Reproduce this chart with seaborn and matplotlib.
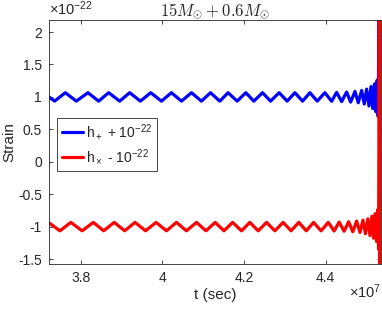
import numpy as np
import pandas as pd
import matplotlib
matplotlib.use("Agg")
import matplotlib.pyplot as plt
import seaborn as sns

# time of each local extremum (units of 1e7 s)
t_plus = [3.7223, 3.7363, 3.7625, 3.7895, 3.8179, 3.8441, 3.8686, 3.8956, 3.9201, 3.9463,
          3.9716, 3.9978, 4.0223, 4.0468, 4.0713, 4.0958, 4.1179, 4.1407, 4.1610, 4.1831,
          4.2044, 4.2240, 4.2453, 4.2650, 4.2860, 4.3056, 4.3245, 4.3434, 4.3613, 4.3792,
          4.3980, 4.4145, 4.4267, 4.4390, 4.4512, 4.4610, 4.4716, 4.4797, 4.4880, 4.4944,
          4.5002, 4.5059, 4.5108, 4.5152, 4.5194, 4.5230, 4.5260, 4.5284, 4.5304, 4.5319,
          4.5333]
# strain at those points (units of 1e-22, already shifted by +1)
h_plus = [1.0, 0.935, 1.065, 0.935, 1.065, 0.935, 1.065, 0.935, 1.065, 0.935,
          1.065, 0.935, 1.065, 0.935, 1.065, 0.935, 1.065, 0.935, 1.065, 0.935,
          1.065, 0.935, 1.065, 0.935, 1.065, 0.935, 1.065, 0.935, 1.065, 0.935,
          1.065, 0.932, 1.07, 0.928, 1.075, 0.92, 1.085, 0.91, 1.10, 0.89,
          1.12, 0.86, 1.16, 0.82, 1.20, 0.77, 1.26, 0.70, 2.18, 0.55,
          1.3]

t_cross = [3.7223, 3.7494, 3.7760, 3.8037, 3.8310, 3.8564, 3.8821, 3.9079, 3.9332, 3.9590,
           3.9847, 4.0101, 4.0346, 4.0591, 4.0836, 4.1069, 4.1293, 4.1509, 4.1721, 4.1938,
           4.2142, 4.2347, 4.2552, 4.2755, 4.2958, 4.3151, 4.3340, 4.3524, 4.3703, 4.3886,
           4.4063, 4.4206, 4.4329, 4.4451, 4.4561, 4.4663, 4.4757, 4.4839, 4.4912, 4.4973,
           4.5031, 4.5084, 4.5130, 4.5173, 4.5212, 4.5245, 4.5272, 4.5294, 4.5312, 4.5326,
           4.5335]
# (units of 1e-22, shifted by -1)
h_cross = [-0.94, -1.065, -0.935, -1.065, -0.935, -1.065, -0.935, -1.065, -0.935, -1.065,
           -0.935, -1.065, -0.935, -1.065, -0.935, -1.065, -0.935, -1.065, -0.935, -1.065,
           -0.935, -1.065, -0.935, -1.065, -0.935, -1.065, -0.935, -1.065, -0.935, -1.065,
           -0.935, -1.068, -0.93, -1.072, -0.925, -1.08, -0.915, -1.09, -0.90, -1.11,
           -0.88, -1.14, -0.84, -1.18, -0.80, -1.23, -0.74, -1.35, 2.18, -1.58,
           -1.0]

yticks = [-1.5, -1, -0.5, 0, 0.5, 1, 1.5, 2]
xticks = [3.8, 4.0, 4.2, 4.4]

sns.set_style("ticks")
plt.rcParams["font.family"] = ["Liberation Sans", "DejaVu Sans"]
plt.rcParams["mathtext.fontset"] = "custom"
plt.rcParams["mathtext.rm"] = "Liberation Sans"
plt.rcParams["mathtext.it"] = "Liberation Sans:italic"
plt.rcParams["axes.unicode_minus"] = False

fig = plt.figure(figsize=(3.82, 3.09), dpi=100)
ax = fig.add_axes([0.128, 0.1456, 0.869, 0.7894])

sns.lineplot(x=t_plus, y=h_plus, ax=ax, color="#0000ff", lw=2.3, sort=False,
             solid_joinstyle="round", label=r"h$_+$ + 10$^{-22}$")
sns.lineplot(x=t_cross, y=h_cross, ax=ax, color="#ff0000", lw=2.3, sort=False,
             solid_joinstyle="round", label=r"h$_\times$ - 10$^{-22}$")

ax.set_xlim(3.7223, 4.535)
ax.set_ylim(-1.577, 2.185)
ax.set_xticks(xticks)
ax.set_yticks(yticks)
ax.set_xticklabels([f"{v:g}" for v in xticks])
ax.set_yticklabels([f"{v:g}" for v in yticks])
ax.tick_params(direction="in", top=True, right=True, length=3, width=0.6,
               color="#262626", labelsize=10, labelcolor="#262626", pad=5)
for s in ax.spines.values():
    s.set_linewidth(0.6)
    s.set_color("#262626")

ax.set_xlabel("t (sec)", fontsize=11, color="#262626", labelpad=2)
ax.set_ylabel("Strain", fontsize=11, color="#262626", labelpad=1)
title = ax.set_title(r"$15M_{\odot} + 0.6M_{\odot}$", fontsize=12, pad=3)
title.set_math_fontfamily("cm")

ax.text(0.0, 1.01, r"$\times$10$^{-22}$", transform=ax.transAxes, fontsize=10.5,
        color="#262626", ha="left", va="bottom")
ax.text(1.0, -0.075, r"$\times$10$^{7}$", transform=ax.transAxes, fontsize=10.5,
        color="#262626", ha="right", va="top")

leg = ax.legend(loc="lower left", bbox_to_anchor=(0.024, 0.381), fontsize=10,
                handlelength=1.5, handletextpad=0.25, borderpad=0.35,
                labelspacing=0.45, fancybox=False, framealpha=1, borderaxespad=0)
leg.get_frame().set_edgecolor("#262626")
leg.get_frame().set_linewidth(0.6)

fig.savefig("out.png", dpi=100)
